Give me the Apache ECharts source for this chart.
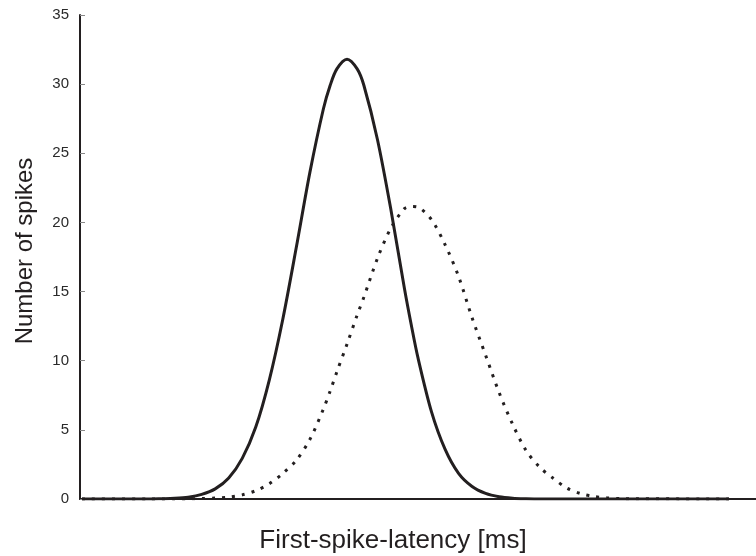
<!DOCTYPE html>
<html>
<head>
<meta charset="utf-8">
<script src="https://cdn.jsdelivr.net/npm/echarts@6/dist/echarts.min.js"></script>
<style>html,body{margin:0;padding:0;background:#fff}#c{width:756px;height:556px}</style>
</head>
<body>
<div id="c"></div>
<script>
// latency (arbitrary axis units, axis has no tick labels)
const latency = [0.3, 10, 12, 14, 16, 18, 20, 22, 24, 26, 28, 30, 32, 34, 36, 37, 38, 39.5, 41, 42, 44, 46, 48, 49, 50, 52, 54, 56, 58, 60, 62, 64, 66, 68, 70, 72, 74, 76, 78, 80, 96];
// solid curve
const solidSpikes = [0, 0, 0.02, 0.05, 0.13, 0.33, 0.73, 1.52, 2.94, 5.2, 8.6, 13.0, 18.2, 23.6, 28.2, 29.9, 31.1, 31.8, 31.1, 29.9, 26.0, 20.9, 15.2, 12.6, 10.2, 6.3, 3.6, 1.85, 0.9, 0.4, 0.16, 0.06, 0.02, 0, 0, 0, 0, 0, 0, 0, 0];
// dotted curve
const dottedSpikes = [0, 0, 0, 0, 0.01, 0.03, 0.07, 0.14, 0.3, 0.6, 1.1, 1.85, 2.8, 4.3, 6.5, 7.8, 9.2, 11.2, 13.3, 14.6, 17.4, 19.6, 21.0, 21.15, 21.1, 20.2, 18.4, 16.1, 13.1, 10.4, 7.7, 5.4, 3.5, 2.3, 1.5, 0.8, 0.4, 0.18, 0.08, 0.03, 0];
const yTicks = [0, 5, 10, 15, 20, 25, 30, 35];
const xTitle = 'First-spike-latency [ms]';
const yTitle = 'Number of spikes';

const ink = '#231f20';
const font = '"Liberation Sans", Arial, sans-serif';
const chart = echarts.init(document.getElementById('c'), null, {renderer: 'canvas'});
chart.setOption({
  animation: false,
  backgroundColor: '#fff',
  grid: {left: 80, right: 0, top: 15, bottom: 57},
  xAxis: {
    type: 'value', min: 0, max: 100,
    axisLine: {lineStyle: {color: ink, width: 2}},
    axisTick: {show: false},
    axisLabel: {show: false},
    splitLine: {show: false}
  },
  yAxis: {
    type: 'value', min: yTicks[0], max: yTicks[yTicks.length - 1], interval: 5,
    axisLine: {show: true, lineStyle: {color: ink, width: 2}},
    axisTick: {show: true, inside: true, length: 5, lineStyle: {color: '#888', width: 1}},
    axisLabel: {color: '#2a2a2a', fontFamily: font, fontSize: 15, margin: 11},
    splitLine: {show: false}
  },
  graphic: [
    {type: 'text', x: 393, y: 541, style: {text: xTitle, fill: ink, font: '26px ' + font, textAlign: 'center', textVerticalAlign: 'middle'}},
    {type: 'text', x: 25, y: 251, rotation: Math.PI / 2, style: {text: yTitle, fill: ink, font: '24px ' + font, textAlign: 'center', textVerticalAlign: 'middle'}}
  ],
  series: [
    {
      type: 'line', smooth: 0.3, symbol: 'none',
      data: latency.map((x, i) => [x, solidSpikes[i]]),
      lineStyle: {color: ink, width: 3}
    },
    {
      type: 'line', smooth: 0.3, symbol: 'none',
      data: latency.map((x, i) => [x, dottedSpikes[i]]),
      lineStyle: {color: ink, width: 3, type: [3, 7], cap: 'butt'}
    }
  ]
});
</script>
</body>
</html>
